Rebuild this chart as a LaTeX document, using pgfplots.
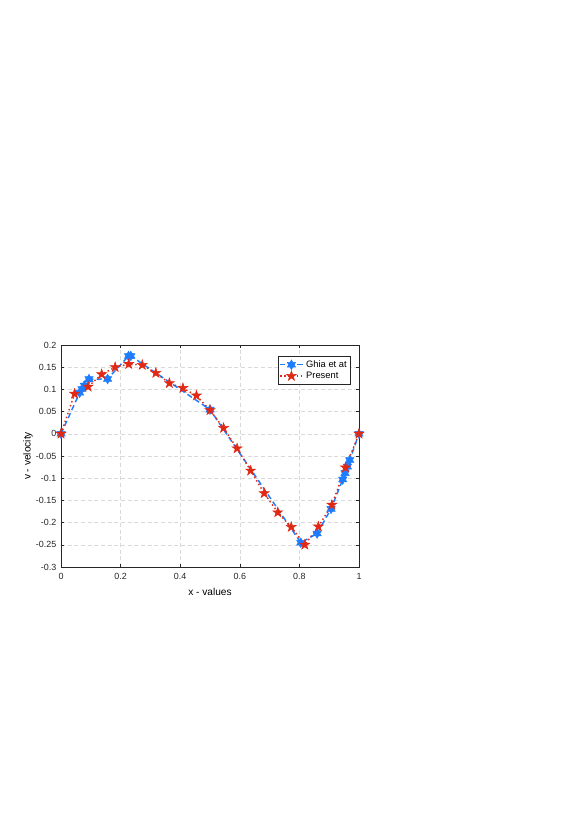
\documentclass[border=0pt]{standalone}
\usepackage{fontspec}
\setmainfont{Liberation Sans}
\usepackage{pgfplots}
\pgfplotsset{compat=1.18}
\definecolor{ghiablue}{RGB}{30,125,255}
\definecolor{presred}{RGB}{225,40,20}
\definecolor{axgray}{RGB}{38,38,38}

\pgfdeclareplotmark{pentagram}{%
  \pgfpathmoveto{\pgfpointpolar{90}{\pgfplotmarksize}}%
  \pgfpathlineto{\pgfpointpolar{126}{0.382\pgfplotmarksize}}%
  \pgfpathlineto{\pgfpointpolar{162}{\pgfplotmarksize}}%
  \pgfpathlineto{\pgfpointpolar{198}{0.382\pgfplotmarksize}}%
  \pgfpathlineto{\pgfpointpolar{234}{\pgfplotmarksize}}%
  \pgfpathlineto{\pgfpointpolar{270}{0.382\pgfplotmarksize}}%
  \pgfpathlineto{\pgfpointpolar{306}{\pgfplotmarksize}}%
  \pgfpathlineto{\pgfpointpolar{342}{0.382\pgfplotmarksize}}%
  \pgfpathlineto{\pgfpointpolar{18}{\pgfplotmarksize}}%
  \pgfpathlineto{\pgfpointpolar{54}{0.382\pgfplotmarksize}}%
  \pgfpathclose
  \pgfusepathqfillstroke}
\pgfdeclareplotmark{hexagram}{%
  \pgfpathmoveto{\pgfpointpolar{90}{\pgfplotmarksize}}%
  \pgfpathlineto{\pgfpointpolar{120}{0.577\pgfplotmarksize}}%
  \pgfpathlineto{\pgfpointpolar{150}{\pgfplotmarksize}}%
  \pgfpathlineto{\pgfpointpolar{180}{0.577\pgfplotmarksize}}%
  \pgfpathlineto{\pgfpointpolar{210}{\pgfplotmarksize}}%
  \pgfpathlineto{\pgfpointpolar{240}{0.577\pgfplotmarksize}}%
  \pgfpathlineto{\pgfpointpolar{270}{\pgfplotmarksize}}%
  \pgfpathlineto{\pgfpointpolar{300}{0.577\pgfplotmarksize}}%
  \pgfpathlineto{\pgfpointpolar{330}{\pgfplotmarksize}}%
  \pgfpathlineto{\pgfpointpolar{0}{0.577\pgfplotmarksize}}%
  \pgfpathlineto{\pgfpointpolar{30}{\pgfplotmarksize}}%
  \pgfpathlineto{\pgfpointpolar{60}{0.577\pgfplotmarksize}}%
  \pgfpathclose
  \pgfusepathqfillstroke}

\begin{document}
\begin{tikzpicture}
% page frame: 579 x 818 px at 0.75pt per px
\path (0,0) rectangle (434.25pt,613.5pt);
\begin{axis}[
    at={(45.75pt,188.25pt)}, anchor=south west,
    scale only axis,
    width=223.5pt, height=166.5pt,
    xmin=0, xmax=1,
    ymin=-0.3, ymax=0.2,
    xtick={0,0.2,...,1},
    ytick={-0.3,-0.25,...,0.21},
    xlabel={x - values},
    ylabel={v - velocity},
    xlabel style={font=\fontsize{7.6}{8}\selectfont, yshift=1pt},
    ylabel style={font=\fontsize{7.6}{8}\selectfont, yshift=-4.5pt},
    tick label style={font=\fontsize{6.7}{7}\selectfont, color=axgray},
    /pgf/number format/assume math mode=true,
    yticklabel style={/pgf/number format/fixed, /pgf/number format/precision=2},
    xticklabel style={/pgf/number format/fixed, yshift=-1.5pt},
    tick align=inside,
    major tick length=2.5pt,
    axis line style={axgray, line width=0.4pt},
    tick style={axgray, line width=0.4pt},
    grid=major,
    grid style={gray!30, dash pattern=on 3pt off 2pt, line width=0.3pt},
    legend style={at={(0.973,0.95)}, anchor=north east, draw=axgray,
      line width=0.4pt, font=\fontsize{7}{8}\selectfont,
      inner sep=1pt, row sep=-2pt, cells={anchor=west}},
    legend cell align=left,
]
\addplot[ghiablue, dash pattern=on 4pt off 2.5pt, line width=1.1pt, mark=hexagram, mark size=3.6pt,
  mark options={solid, fill=ghiablue, draw=ghiablue, line width=0.4pt}]
  coordinates {
  (0,0) (0.0625,0.0923) (0.0703,0.1009) (0.0781,0.1089) (0.0938,0.1232)
  (0.1563,0.1235) (0.2266,0.1751) (0.2344,0.1753) (0.5,0.0545)
  (0.8047,-0.2453) (0.8594,-0.2245) (0.9063,-0.1691) (0.9453,-0.1031)
  (0.9531,-0.0886) (0.9609,-0.0739) (0.9688,-0.0591) (1,0)
  };
\addlegendentry{Ghia et at}
\addplot[presred, dotted, line width=1.1pt, mark=pentagram, mark size=3.9pt,
  mark options={solid, fill=presred, draw=presred, line width=0.4pt}]
  coordinates {
  (0,0) (0.0455,0.090) (0.0909,0.106) (0.1364,0.134) (0.1818,0.150)
  (0.2273,0.157) (0.2727,0.155) (0.3182,0.137) (0.3636,0.114)
  (0.4091,0.103) (0.4545,0.086) (0.5,0.053) (0.5455,0.013)
  (0.5909,-0.033) (0.6364,-0.083) (0.6818,-0.134) (0.7273,-0.177)
  (0.7727,-0.210) (0.8182,-0.250) (0.8636,-0.209) (0.9091,-0.160)
  (0.9545,-0.076) (1,0)
  };
\addlegendentry{Present}
\end{axis}
\end{tikzpicture}
\end{document}
